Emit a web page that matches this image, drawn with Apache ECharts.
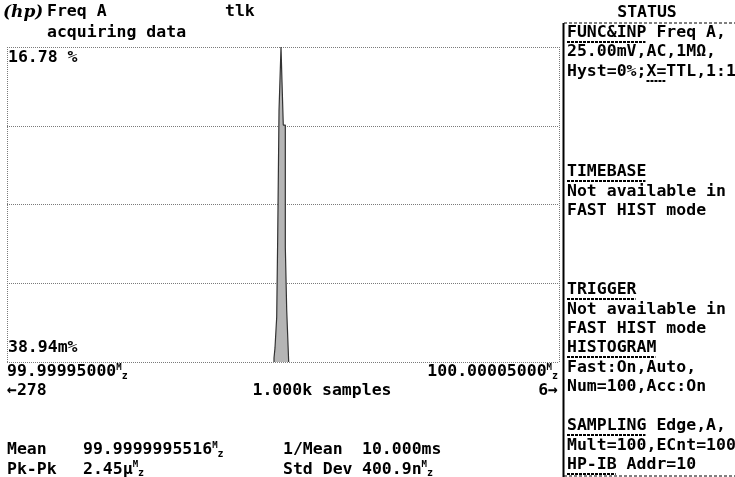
<!DOCTYPE html>
<html>
<head>
<meta charset="utf-8">
<script src="https://cdn.jsdelivr.net/npm/echarts@6/dist/echarts.min.js"></script>
<style>
  html, body { margin: 0; padding: 0; background: #fff; }
  #chart { width: 735px; height: 477px; }
</style>
</head>
<body>
<div id="chart"></div>
<script>
// histogram bins, Hz above 99.99995000 MHz (last edge closes the final bin)
const binEdgesHz = [48.37, 48.55, 48.86, 49.04, 49.28, 49.64, 49.82, 50.05, 50.42, 50.67, 51.03];
const binPercent = [0.21, 0.75, 2.40, 6.66, 13.42, 16.78, 14.92, 12.62, 6.13, 2.77];
const spanHz = [0, 100];
const yMaxPercent = 16.78;
const yLabels = ['16.78 %', '38.94m%'];
const xLabels = ['99.99995000', '100.00005000'];
const overflow = ['\u2190278', '6\u2192'];
const sampleText = '1.000k samples';
const statRows = [
    ['Mean', '99.9999995516', '1/Mean', '10.000ms'],
    ['Pk-Pk', '2.45\u00b5', 'Std Dev', '400.9n']
];
const statusLines = [
    'FUNC&INP Freq A,', '25.00mV,AC,1M\u03a9,', 'Hyst=0%;X=TTL,1:1',
    'TIMEBASE', 'Not available in', 'FAST HIST mode',
    'TRIGGER', 'Not available in', 'FAST HIST mode',
    'HISTOGRAM', 'Fast:On,Auto,', 'Num=100,Acc:On',
    'SAMPLING Edge,A,', 'Mult=100,ECnt=100', 'HP-IB Addr=10'
];
const statusRowsY = [33, 52, 72, 172, 192, 211, 290, 310, 329, 348, 368, 387, 426, 446, 465];
// [line index, first char, char count] of underlined words
const underlines = [[0, 0, 8], [2, 8, 2], [3, 0, 8], [6, 0, 7], [9, 0, 9], [12, 0, 8], [14, 0, 5]];

const FONT = '"DejaVu Sans Mono", "Liberation Mono", monospace';
const FS = 16.5;
const CW = FS * 0.602;
const UNIT = '{m|M}{z|z}';

const chart = echarts.init(document.getElementById('chart'));

// stepped outline of the histogram: each bin gives a flat top from its left to right edge
const pts = [[binEdgesHz[0], 0]];
binPercent.forEach((v, i) => {
    pts.push([binEdgesHz[i], v]);
    pts.push([binEdgesHz[i + 1], v]);
});
pts.push([binEdgesHz[binEdgesHz.length - 1], 0]);

const unitRich = {
    m: { fontFamily: FONT, fontWeight: 'bold', fontSize: 9, verticalAlign: 'top', lineHeight: 18 },
    z: { fontFamily: FONT, fontWeight: 'bold', fontSize: 10, verticalAlign: 'bottom', lineHeight: 18 }
};

const txt = (x, y, text, align, extra) => ({
    type: 'text',
    x: x, y: y,
    style: Object.assign({
        text: text,
        fill: '#000',
        font: 'bold ' + FS + 'px ' + FONT,
        textAlign: align || 'left',
        textVerticalAlign: 'middle',
        rich: unitRich
    }, extra || {})
});

const graphics = [];
// header
graphics.push(txt(3, 13, '(hp)', 'left', { font: 'italic bold 17px "DejaVu Serif", serif' }));
graphics.push(txt(47, 12, 'Freq A'));
graphics.push(txt(225, 12, 'tlk'));
graphics.push(txt(47, 33, 'acquiring data'));
// plot labels
graphics.push(txt(8, 58, yLabels[0]));
graphics.push(txt(8, 348, yLabels[1]));
graphics.push(txt(7, 372, xLabels[0] + UNIT));
graphics.push(txt(558, 372, xLabels[1] + UNIT, 'right'));
graphics.push(txt(7, 391, overflow[0]));
graphics.push(txt(322, 391, sampleText, 'center'));
graphics.push(txt(558, 391, overflow[1], 'right'));
// statistics
statRows.forEach((r, i) => {
    const y = 450 + i * 19.5;
    graphics.push(txt(7, y, r[0]));
    graphics.push(txt(83, y, r[1] + UNIT));
    graphics.push(txt(283, y, r[2]));
    graphics.push(txt(362, y, r[3] + (r[3].endsWith('ms') ? '' : UNIT)));
});
// status panel
graphics.push(txt(647, 13, 'STATUS', 'center'));
graphics.push({ type: 'line', shape: { x1: 563.5, y1: 23, x2: 563.5, y2: 477 }, style: { stroke: '#000', lineWidth: 2 } });
graphics.push({ type: 'line', shape: { x1: 564, y1: 23, x2: 735, y2: 23 }, style: { stroke: '#000', lineWidth: 1, lineDash: [3, 2] } });
graphics.push({ type: 'line', shape: { x1: 564, y1: 476, x2: 735, y2: 476 }, style: { stroke: '#000', lineWidth: 1, lineDash: [3, 2] } });
statusLines.forEach((s, i) => graphics.push(txt(567, statusRowsY[i], s)));
underlines.forEach(u => {
    const y = statusRowsY[u[0]] + 9;
    const x1 = 567 + u[1] * CW;
    graphics.push({
        type: 'line',
        shape: { x1: x1, y1: y, x2: x1 + u[2] * CW - 1, y2: y },
        style: { stroke: '#000', lineWidth: 2, lineDash: [3, 1] }
    });
});

const dotted = { color: '#7a7a7a', width: 1, type: [1, 1] };

chart.setOption({
    animation: false,
    backgroundColor: '#fff',
    grid: { left: 7, top: 47, width: 552, height: 315 },
    xAxis: {
        type: 'value', min: spanHz[0], max: spanHz[1], interval: 100,
        axisLine: { show: false }, axisTick: { show: false }, axisLabel: { show: false },
        splitLine: { show: true, lineStyle: dotted }
    },
    yAxis: {
        type: 'value', min: 0, max: yMaxPercent, interval: yMaxPercent / 4,
        axisLine: { show: false }, axisTick: { show: false }, axisLabel: { show: false },
        splitLine: { show: true, lineStyle: dotted }
    },
    series: [{
        type: 'line',
        data: pts,
        symbol: 'none',
        lineStyle: { color: '#333', width: 1.2 },
        areaStyle: { color: '#b5b5b5', opacity: 1 },
        z: 3
    }],
    graphic: graphics
});
</script>
</body>
</html>
